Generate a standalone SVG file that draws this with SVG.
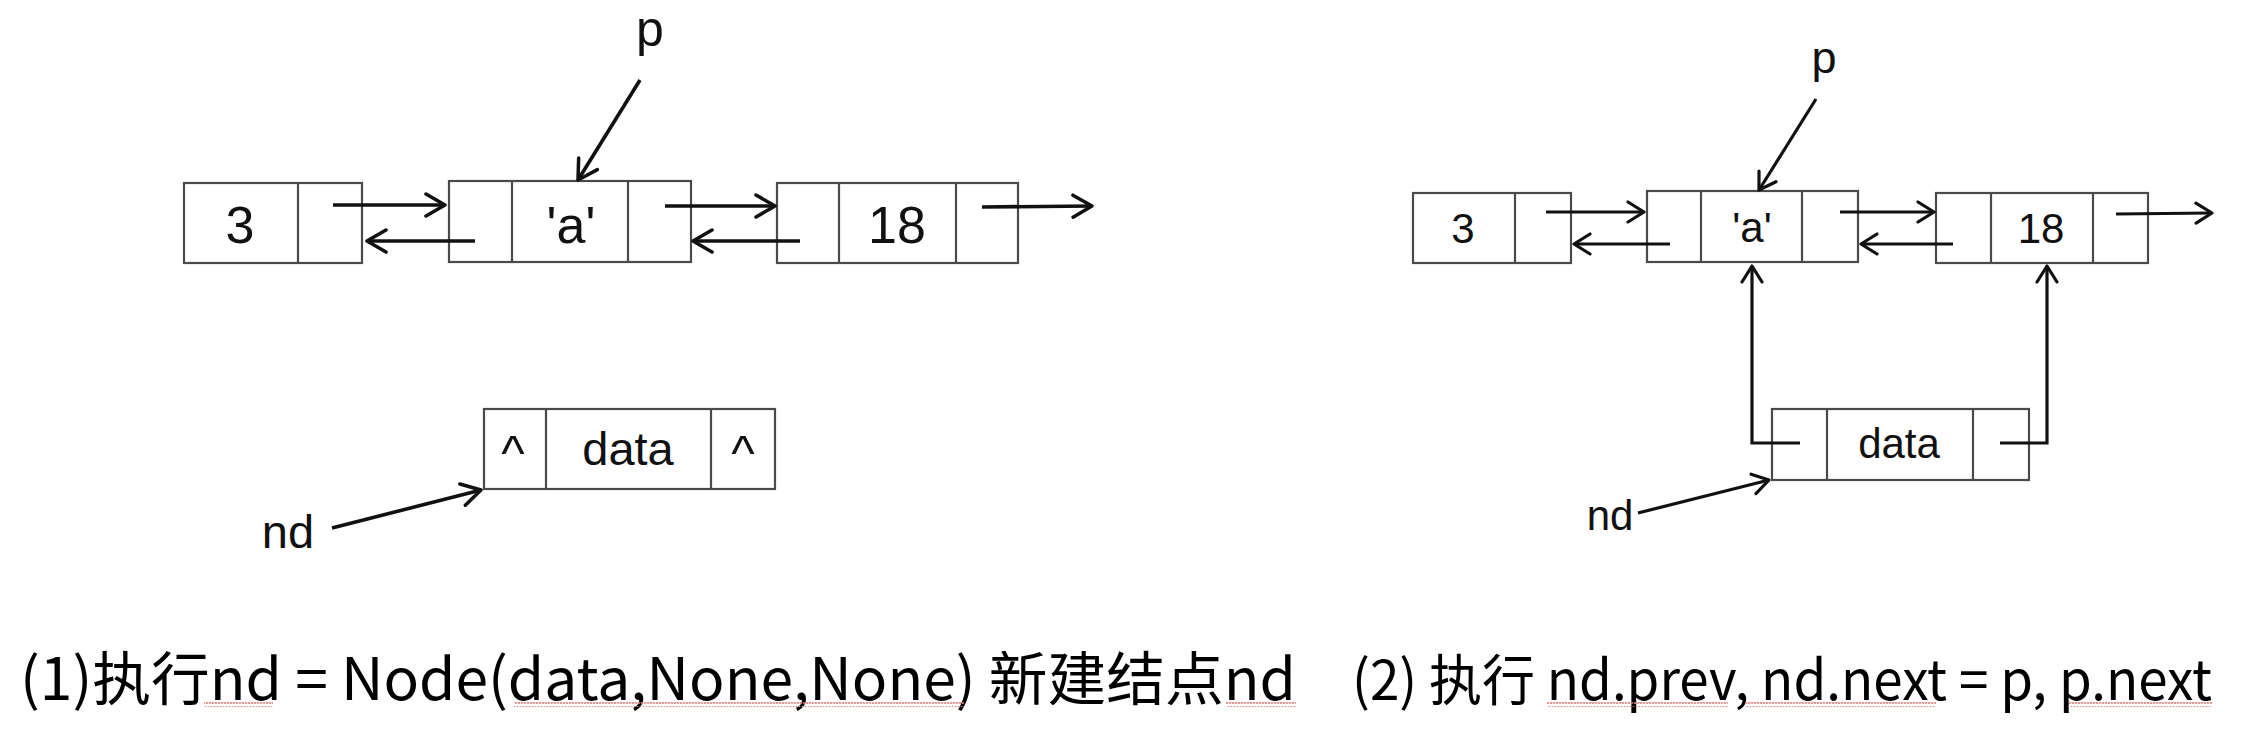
<svg xmlns="http://www.w3.org/2000/svg" width="2257" height="738" viewBox="0 0 2257 738">
<defs>
<marker id="ahL" viewBox="-2 -2 24 26" refX="19" refY="11" markerWidth="24" markerHeight="26" markerUnits="userSpaceOnUse" orient="auto">
<path d="M0,0 L19,11 L0,22" fill="none" stroke="#111" stroke-width="3.5" stroke-linecap="round" stroke-linejoin="round"/>
</marker>
<marker id="ahR" viewBox="-2 -2 21 24" refX="16" refY="10" markerWidth="21" markerHeight="24" markerUnits="userSpaceOnUse" orient="auto">
<path d="M0,0 L16,10 L0,20" fill="none" stroke="#111" stroke-width="3.2" stroke-linecap="round" stroke-linejoin="round"/>
</marker>
<pattern id="wavy" x="0" y="0" width="6" height="5" patternUnits="userSpaceOnUse">
<path d="M0,4 L1.5,1 L3,4 L4.5,1 L6,4" fill="none" stroke="#e07a7a" stroke-width="1"/>
</pattern>
<style>
.box{fill:#fff;stroke:#4a4a4a;stroke-width:2.2}
.div{stroke:#4a4a4a;stroke-width:2.2}
.lbl{font-family:"Liberation Sans",Arial,sans-serif;fill:#111;text-anchor:middle}
.cnL{stroke:#111;stroke-width:3.6;fill:none;marker-end:url(#ahL)}
.cnR{stroke:#111;stroke-width:3.2;fill:none;marker-end:url(#ahR)}
.cap{font-family:"Noto Sans CJK SC","Noto Sans",sans-serif;fill:#000}
</style>
</defs>
<rect width="2257" height="738" fill="#fff"/>

<!-- Left diagram -->
<g id="L-n3">
<rect class="box" x="184" y="183" width="178" height="80"/>
<line class="div" x1="298" y1="183" x2="298" y2="263"/>
<text class="lbl" x="240" y="243" font-size="52">3</text>
</g>
<g id="L-na">
<rect class="box" x="449" y="181" width="242" height="81"/>
<line class="div" x1="512" y1="181" x2="512" y2="262"/>
<line class="div" x1="628" y1="181" x2="628" y2="262"/>
<text class="lbl" x="571" y="243" font-size="52">'a'</text>
</g>
<g id="L-n18">
<rect class="box" x="777" y="183" width="241" height="80"/>
<line class="div" x1="839" y1="183" x2="839" y2="263"/>
<line class="div" x1="956" y1="183" x2="956" y2="263"/>
<text class="lbl" x="897" y="243" font-size="52">18</text>
</g>
<g id="L-data">
<rect class="box" x="484" y="409" width="291" height="80"/>
<line class="div" x1="546" y1="409" x2="546" y2="489"/>
<line class="div" x1="711" y1="409" x2="711" y2="489"/>
<text class="lbl" x="513" y="470" font-size="50">^</text>
<text class="lbl" x="628" y="465" font-size="47">data</text>
<text class="lbl" x="743" y="470" font-size="50">^</text>
</g>
<g id="L-p"><text class="lbl" x="650" y="46" font-size="50">p</text></g>
<g id="L-nd"><text class="lbl" x="288" y="548" font-size="47">nd</text></g>

<!-- Right diagram -->
<g id="R-n3">
<rect class="box" x="1413" y="193" width="158" height="70"/>
<line class="div" x1="1515" y1="193" x2="1515" y2="263"/>
<text class="lbl" x="1463" y="243" font-size="42">3</text>
</g>
<g id="R-na">
<rect class="box" x="1647" y="191" width="211" height="71"/>
<line class="div" x1="1701" y1="191" x2="1701" y2="262"/>
<line class="div" x1="1802" y1="191" x2="1802" y2="262"/>
<text class="lbl" x="1752" y="242" font-size="42">'a'</text>
</g>
<g id="R-n18">
<rect class="box" x="1936" y="193" width="212" height="70"/>
<line class="div" x1="1991" y1="193" x2="1991" y2="263"/>
<line class="div" x1="2093" y1="193" x2="2093" y2="263"/>
<text class="lbl" x="2041" y="243" font-size="42">18</text>
</g>
<g id="R-data">
<rect class="box" x="1772" y="409" width="257" height="71"/>
<line class="div" x1="1827" y1="409" x2="1827" y2="480"/>
<line class="div" x1="1973" y1="409" x2="1973" y2="480"/>
<text class="lbl" x="1899" y="458" font-size="42">data</text>
</g>
<g id="R-p"><text class="lbl" x="1824" y="73" font-size="45">p</text></g>
<g id="R-nd"><text class="lbl" x="1610" y="530" font-size="42">nd</text></g>

<g id="connectors">
<!-- left -->
<line class="cnL" x1="333" y1="205" x2="445" y2="205"/>
<line class="cnL" x1="475" y1="241" x2="367" y2="241"/>
<line class="cnL" x1="665" y1="206" x2="775" y2="206"/>
<line class="cnL" x1="800" y1="241" x2="693" y2="241"/>
<line class="cnL" x1="982" y1="207" x2="1092" y2="206"/>
<line class="cnL" x1="640" y1="80" x2="578" y2="180"/>
<line class="cnL" x1="332" y1="528" x2="481" y2="490"/>
<!-- right -->
<line class="cnR" x1="1546" y1="212" x2="1644" y2="212"/>
<line class="cnR" x1="1670" y1="244" x2="1574" y2="244"/>
<line class="cnR" x1="1840" y1="212" x2="1934" y2="212"/>
<line class="cnR" x1="1953" y1="244" x2="1861" y2="244"/>
<line class="cnR" x1="2116" y1="214" x2="2212" y2="213"/>
<line class="cnR" x1="1816" y1="99" x2="1759" y2="190"/>
<line class="cnR" x1="1638" y1="513" x2="1769" y2="480"/>
<polyline class="cnR" points="1800,443 1752,443 1752,266"/>
<polyline class="cnR" points="2000,443 2047,443 2047,266"/>
</g>

<g id="captions">
<text class="cap" x="20" y="700" font-size="58" textLength="1276" lengthAdjust="spacingAndGlyphs">(1)执行nd = Node(data,None,None) 新建结点nd</text>
<text class="cap" x="1352" y="700" font-size="55" textLength="860" lengthAdjust="spacingAndGlyphs">(2) 执行 nd.prev, nd.next = p, p.next</text>
<g id="spellmarks">
<rect x="204" y="702" width="69" height="5" fill="url(#wavy)"/>
<rect x="514" y="702" width="450" height="5" fill="url(#wavy)"/>
<rect x="1226" y="702" width="70" height="5" fill="url(#wavy)"/>
<rect x="1547" y="702" width="181" height="5" fill="url(#wavy)"/>
<rect x="1745" y="702" width="191" height="5" fill="url(#wavy)"/>
<rect x="2068" y="702" width="144" height="5" fill="url(#wavy)"/>
</g>
</g>
</svg>
